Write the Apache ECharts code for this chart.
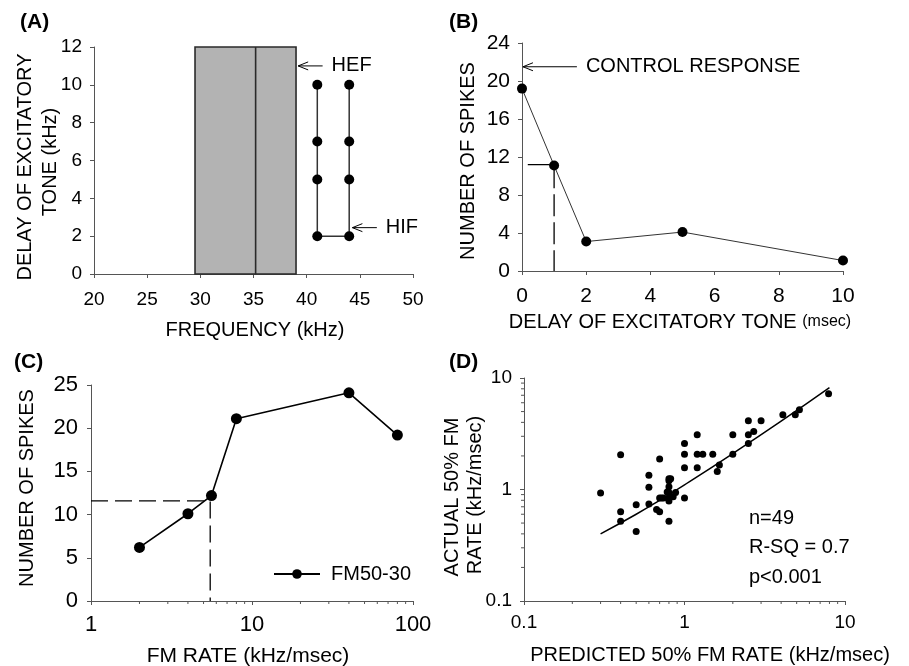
<!DOCTYPE html>
<html>
<head>
<meta charset="utf-8">
<script src="https://cdn.jsdelivr.net/npm/echarts@6/dist/echarts.min.js"></script>
<style>html,body{margin:0;padding:0;background:#fff}#c{width:909px;height:666px}</style>
</head>
<body>
<div id="c"></div>
<script>
// ---------- DATA ----------
// Panel A
const freqTicksA = [20, 25, 30, 35, 40, 45, 50];
const bandLowA = 29.5, bandHighA = 39.0, bandMidA = 35.2, bandTopA = 12;
const uLeftFreqA = 41, uRightFreqA = 44;
const uDelaysA = [10, 7, 5, 2];
const hefArrow = [39.2, 11.0, 41.5];   // tip x, y, tail x
const hifArrow = [44.3, 2.45, 46.6];
// Panel B
const delayB = [0, 1, 2, 5, 10];
const spikesB = [19.2, 11.1, 3.1, 4.1, 1.1];
const guideB = [[0.18, 11.2], [1, 11.2], [1, 0]];
const controlArrow = [0.03, 21.5, 1.71];
// Panel C
const fmRateC = [2, 4, 5.6, 8, 40, 80];
const spikesC = [6.2, 10.1, 12.2, 21.1, 24.1, 19.2];
const guideC = [[1, 11.6], [5.5, 11.6], [5.5, 0]];
const minorC = [2, 3, 4, 5, 6, 7, 8, 9, 20, 30, 40, 50, 60, 70, 80, 90];
// Panel D
const predictedD = [0.3, 0.4, 0.4, 0.4, 0.5, 0.5, 0.6, 0.6, 0.6, 0.7, 0.67, 0.7, 0.7, 0.74,
  0.8, 0.82, 0.8, 0.8, 0.8, 0.8, 0.8, 0.82, 0.88, 1.0, 1.0, 1.0, 1.0, 1.2, 1.2, 1.2, 1.3,
  1.5, 1.6, 1.65, 2.0, 2.0, 2.5, 2.5, 2.5, 2.7, 3.0, 4.1, 4.9, 5.2, 7.9, 0.8, 0.85, 0.78, 0.72];
const actualD = [0.93, 2.05, 0.63, 0.52, 0.73, 0.42, 1.34, 1.05, 0.74, 1.88, 0.66, 0.63, 0.84, 0.84,
  1.25, 1.25, 1.06, 0.94, 0.84, 0.79, 0.52, 0.86, 0.94, 2.58, 2.07, 1.57, 0.84, 3.1, 2.07, 1.57, 2.07,
  2.07, 1.45, 1.66, 3.1, 2.07, 4.14, 3.1, 2.58, 3.32, 4.14, 4.69, 4.69, 5.2, 7.24, 1.2, 0.86, 0.95, 0.84];
const fitD = [[0.3, 0.4], [0.5, 0.6], [0.7, 0.8], [1, 1.1], [2, 2.1], [4, 4.1], [8, 8.2]];
const minorD = [0.2, 0.3, 0.4, 0.5, 0.6, 0.7, 0.8, 0.9, 2, 3, 4, 5, 6, 7, 8, 9];
const statsD = ['n=49', 'R-SQ = 0.7', 'p<0.001'];

// ---------- STYLE ----------
const FF = '"Liberation Sans", Arial, Helvetica, sans-serif';
const AX = '#555';

function axisCommon(fs, margin) {
  return {
    axisLine: { show: true, lineStyle: { color: AX, width: 1 } },
    axisTick: { show: true, inside: false, length: 4, lineStyle: { color: AX } },
    splitLine: { show: false },
    axisLabel: { color: '#000', fontFamily: FF, fontSize: fs, margin: margin }
  };
}

const uDataA = uDelaysA.map(d => [uLeftFreqA, d]).concat(uDelaysA.slice().reverse().map(d => [uRightFreqA, d]));

function arrowSeries(xi, yi, arr, label, fs) {
  return {
    type: 'custom', xAxisIndex: xi, yAxisIndex: yi, silent: true, clip: false,
    encode: { x: [0, 2], y: 1 },
    data: [arr],
    renderItem: function (params, api) {
      const tip = api.coord([api.value(0), api.value(1)]);
      const tail = api.coord([api.value(2), api.value(1)]);
      return {
        type: 'group', children: [
          { type: 'line', shape: { x1: tail[0], y1: tail[1], x2: tip[0], y2: tip[1] }, style: { stroke: '#000', lineWidth: 1 } },
          { type: 'polyline', shape: { points: [[tip[0] + 10, tip[1] - 4], [tip[0], tip[1]], [tip[0] + 10, tip[1] + 4]] }, style: { stroke: '#000', lineWidth: 1, fill: null } },
          { type: 'text', style: { text: label, x: tail[0] + 9, y: tip[1], fill: '#000', font: fs + 'px ' + FF, verticalAlign: 'middle', textVerticalAlign: 'middle', textAlign: 'left' } }
        ]
      };
    }
  };
}

function minorSeries(xi, yi, values, dir, base) {
  return {
    type: 'custom', xAxisIndex: xi, yAxisIndex: yi, silent: true, clip: false,
    data: values.map(v => dir === 'x' ? [v, base] : [base, v]),
    renderItem: function (params, api) {
      const p = api.coord([api.value(0), api.value(1)]);
      const shape = dir === 'x'
        ? { x1: p[0], y1: p[1], x2: p[0], y2: p[1] + 3 }
        : { x1: p[0], y1: p[1], x2: p[0] - 3, y2: p[1] };
      return { type: 'line', shape: shape, style: { stroke: AX, lineWidth: 1 } };
    }
  };
}

function txt(text, x, y, fs, opts) {
  opts = opts || {};
  return {
    type: 'text', x: x, y: y, rotation: opts.rot || 0, silent: true,
    style: {
      text: text, fill: '#000', font: (opts.bold ? 'bold ' : '') + fs + 'px ' + FF,
      textAlign: opts.align || 'center', textVerticalAlign: 'middle', verticalAlign: 'middle',
      rich: opts.rich
    }
  };
}

const R90 = Math.PI / 2;

const option = {
  animation: false,
  backgroundColor: '#fff',
  grid: [
    { left: 94, top: 47, width: 319, height: 227 },
    { left: 522, top: 43, width: 321, height: 228 },
    { left: 91, top: 385, width: 322, height: 216 },
    { left: 524, top: 378, width: 321, height: 223 }
  ],
  xAxis: [
    Object.assign(axisCommon(19, 16), { gridIndex: 0, type: 'value', min: freqTicksA[0], max: freqTicksA[freqTicksA.length - 1], interval: 5 }),
    Object.assign(axisCommon(21, 15), { gridIndex: 1, type: 'value', min: 0, max: 10, interval: 2 }),
    Object.assign(axisCommon(22, 13), { gridIndex: 2, type: 'log', logBase: 10, min: 1, max: 100 }),
    Object.assign(axisCommon(19, 12), { gridIndex: 3, type: 'log', logBase: 10, min: 0.1, max: 10 })
  ],
  yAxis: [
    Object.assign(axisCommon(19, 12), { gridIndex: 0, type: 'value', min: 0, max: 12, interval: 2 }),
    Object.assign(axisCommon(21, 12), { gridIndex: 1, type: 'value', min: 0, max: 24, interval: 4 }),
    Object.assign(axisCommon(22, 13), { gridIndex: 2, type: 'value', min: 0, max: 25, interval: 5 }),
    Object.assign(axisCommon(19, 12), { gridIndex: 3, type: 'log', logBase: 10, min: 0.1, max: 10 })
  ],
  legend: {
    data: ['FM50-30'], left: 273, top: 564, padding: 0,
    itemWidth: 46, itemHeight: 12,
    textStyle: { color: '#000', fontFamily: FF, fontSize: 20, padding: [0, 0, 0, 6] }
  },
  series: [
    // Panel A
    {
      type: 'custom', xAxisIndex: 0, yAxisIndex: 0, silent: true,
      encode: { x: [0, 1], y: [2, 3] },
      data: [[bandLowA, bandHighA, 0, bandTopA]],
      renderItem: function (params, api) {
        const p0 = api.coord([api.value(0), api.value(2)]);
        const p1 = api.coord([api.value(1), api.value(3)]);
        return { type: 'rect', shape: { x: p0[0], y: p1[1], width: p1[0] - p0[0], height: p0[1] - p1[1] },
          style: { fill: '#b3b3b3', stroke: '#2a2a2a', lineWidth: 1.6 } };
      }
    },
    {
      type: 'line', xAxisIndex: 0, yAxisIndex: 0, silent: true, symbol: 'none',
      data: [[bandMidA, 0], [bandMidA, bandTopA]],
      lineStyle: { color: '#2a2a2a', width: 1.6 }
    },
    {
      type: 'line', xAxisIndex: 0, yAxisIndex: 0, silent: true,
      data: uDataA, symbol: 'circle', symbolSize: 10,
      itemStyle: { color: '#000' }, lineStyle: { color: '#333', width: 1.5 }
    },
    arrowSeries(0, 0, hefArrow, 'HEF', 20),
    arrowSeries(0, 0, hifArrow, 'HIF', 20),
    // Panel B
    {
      type: 'line', xAxisIndex: 1, yAxisIndex: 1, silent: true, symbol: 'none',
      data: guideB, lineStyle: { color: '#000', width: 1.3, type: [22, 6] }
    },
    {
      type: 'line', xAxisIndex: 1, yAxisIndex: 1, silent: true,
      data: delayB.map((d, i) => [d, spikesB[i]]), symbol: 'circle', symbolSize: 10,
      itemStyle: { color: '#000' }, lineStyle: { color: '#333', width: 1 }
    },
    arrowSeries(1, 1, controlArrow, 'CONTROL RESPONSE', 20),
    // Panel C
    minorSeries(2, 2, minorC, 'x', 0),
    {
      type: 'line', xAxisIndex: 2, yAxisIndex: 2, silent: true, symbol: 'none',
      data: guideC, lineStyle: { color: '#000', width: 1.3, type: [17, 7] }
    },
    {
      name: 'FM50-30', type: 'line', xAxisIndex: 2, yAxisIndex: 2, silent: true,
      data: fmRateC.map((d, i) => [d, spikesC[i]]), symbol: 'circle', symbolSize: 11,
      itemStyle: { color: '#000' }, lineStyle: { color: '#000', width: 1.6 }
    },
    // Panel D
    minorSeries(3, 3, minorD, 'x', 0.1),
    minorSeries(3, 3, minorD, 'y', 0.1),
    {
      type: 'line', xAxisIndex: 3, yAxisIndex: 3, silent: true, symbol: 'none', smooth: true,
      data: fitD, lineStyle: { color: '#000', width: 1.5 }
    },
    {
      type: 'scatter', xAxisIndex: 3, yAxisIndex: 3, silent: true,
      data: predictedD.map((d, i) => [d, actualD[i]]), symbol: 'circle', symbolSize: 7,
      itemStyle: { color: '#000', opacity: 1 }
    }
  ],
  graphic: [
    txt('(A)', 20, 22, 21, { bold: true, align: 'left' }),
    txt('(B)', 449, 22, 21, { bold: true, align: 'left' }),
    txt('(C)', 14, 362, 21, { bold: true, align: 'left' }),
    txt('(D)', 449, 362, 21, { bold: true, align: 'left' }),
    // Panel A titles
    txt('DELAY OF EXCITATORY', 25, 167, 20, { rot: R90 }),
    txt('TONE (kHz)', 50, 162, 20, { rot: R90 }),
    txt('FREQUENCY (kHz)', 255, 330, 20),
    // Panel B titles
    txt('NUMBER OF SPIKES', 468, 161, 20, { rot: R90 }),
    txt('{a|DELAY OF EXCITATORY TONE }{b|(msec)}', 680, 322, 20, {
      rich: { a: { fontSize: 20, fontFamily: FF, fill: '#000', color: '#000' }, b: { fontSize: 16, fontFamily: FF, fill: '#000', color: '#000' } }
    }),
    // Panel C titles
    txt('NUMBER OF SPIKES', 27, 488, 20, { rot: R90 }),
    txt('FM RATE (kHz/msec)', 248, 656, 21),
    // Panel D titles
    txt('ACTUAL 50% FM', 452, 497, 20, { rot: R90 }),
    txt('RATE (kHz/msec)', 475, 495, 20, { rot: R90 }),
    txt('PREDICTED 50% FM RATE (kHz/msec)', 710, 655, 20),
    txt(statsD[0], 749, 518, 20, { align: 'left' }),
    txt(statsD[1], 749, 547, 20, { align: 'left' }),
    txt(statsD[2], 749, 577, 20, { align: 'left' })
  ]
};

const chart = echarts.init(document.getElementById('c'), null, { renderer: 'canvas' });
chart.setOption(option);
</script>
</body>
</html>
